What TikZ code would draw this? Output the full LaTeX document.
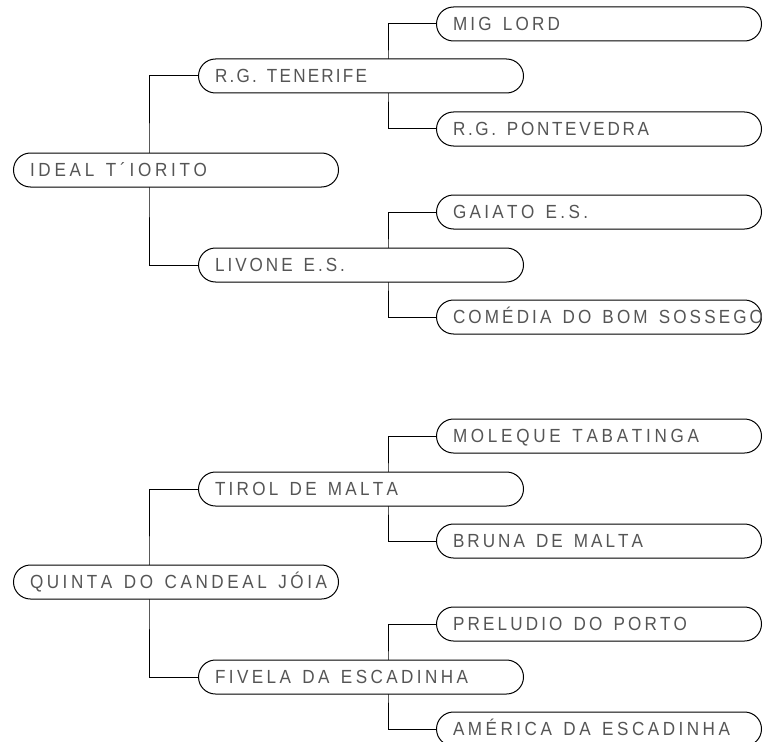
\documentclass[tikz,border=0pt]{standalone}
\usepackage{fontspec}
\newfontfamily\lblfam{Liberation Sans}[FakeStretch=0.9]
\newcommand\lblbase{\lblfam\fontsize{19pt}{22pt}\selectfont}
\usetikzlibrary{backgrounds}
\definecolor{lbltext}{HTML}{555555}
\ExplSyntaxOn
\dim_new:N \l_lbl_ls_dim
\box_new:N \l_lbl_box
\cs_new_protected:Npn \lbl_spaced:n #1
  {
    \tl_map_inline:nn {#1}
      { \str_if_eq:nnTF {##1} {|} { \hspace*{8pt} } { ##1 \kern \l_lbl_ls_dim } }
  }
% #1 visible span of the label in the reference, #2 number of glyphs, #3 text (| = word space)
\NewDocumentCommand \fitlbl { m m m }
  {
    \dim_set:Nn \l_lbl_ls_dim { 0pt }
    \hbox_set:Nn \l_lbl_box { \lblbase \lbl_spaced:n {#3} }
    \dim_set:Nn \l_lbl_ls_dim
      { ( #1pt - \box_wd:N \l_lbl_box + 2pt ) / \int_eval:n { #2 - 1 } }
    \mbox { \lblbase \lbl_spaced:n {#3} }
  }
\ExplSyntaxOff
\tikzset{
  box/.style={draw=black, line width=1pt, fill=white, rounded corners=17pt,
    minimum height=34pt, text width=292pt, inner xsep=16.5pt, inner ysep=0pt,
    align=left, anchor=west, font=\lblbase, text=lbltext,
    text height=13.6pt, text depth=0pt},
  link/.style={draw=black, line width=1pt}
}
\begin{document}
\begin{tikzpicture}[x=1pt,y=-1pt]
\useasboundingbox (0,0) rectangle (765,741);
% group 1
\node[box] (r1) at (13,170) {\fitlbl{175}{13}{IDEAL|T´IORITO}};
\node[box] (ten) at (198,76) {\fitlbl{150}{12}{R.G.|TENERIFE}};
\node[box] (mig) at (436,24) {\fitlbl{105}{7}{MIG|LORD}};
\node[box] (pont) at (436,129) {\fitlbl{194}{14}{R.G.|PONTEVEDRA}};
\node[box] (liv) at (198,265) {\fitlbl{128}{10}{LIVONE|E.S.}};
\node[box] (gai) at (436,212) {\fitlbl{133}{10}{GAIATO|E.S.}};
\node[box] (com) at (436,317) {\fitlbl{308}{19}{COMÉDIA|DO|BOM|SOSSEGO}};
% group 2
\node[box] (r2) at (13,582) {\fitlbl{295}{19}{QUINTA|DO|CANDEAL|JÓIA}};
\node[box] (tir) at (198,489) {\fitlbl{181}{12}{TIROL|DE|MALTA}};
\node[box] (mol) at (436,436) {\fitlbl{244}{16}{MOLEQUE|TABATINGA}};
\node[box] (bru) at (436,541) {\fitlbl{188}{12}{BRUNA|DE|MALTA}};
\node[box] (fiv) at (198,677) {\fitlbl{251}{17}{FIVELA|DA|ESCADINHA}};
\node[box] (pre) at (436,624) {\fitlbl{232}{15}{PRELUDIO|DO|PORTO}};
\node[box] (ame) at (436,729) {\fitlbl{275}{18}{AMÉRICA|DA|ESCADINHA}};
\coordinate (j1) at (149,170);
\coordinate (j2) at (388,76);
\coordinate (j3) at (388,265);
\coordinate (j4) at (149,582);
\coordinate (j5) at (388,489);
\coordinate (j6) at (388,677);
\begin{pgfonlayer}{background}
\draw[link] (ten.west) -| (j1) |- (liv.west);
\draw[link] (mig.west) -| (j2) |- (pont.west);
\draw[link] (gai.west) -| (j3) |- (com.west);
\draw[link] (tir.west) -| (j4) |- (fiv.west);
\draw[link] (mol.west) -| (j5) |- (bru.west);
\draw[link] (pre.west) -| (j6) |- (ame.west);
\end{pgfonlayer}
\end{tikzpicture}
\end{document}
